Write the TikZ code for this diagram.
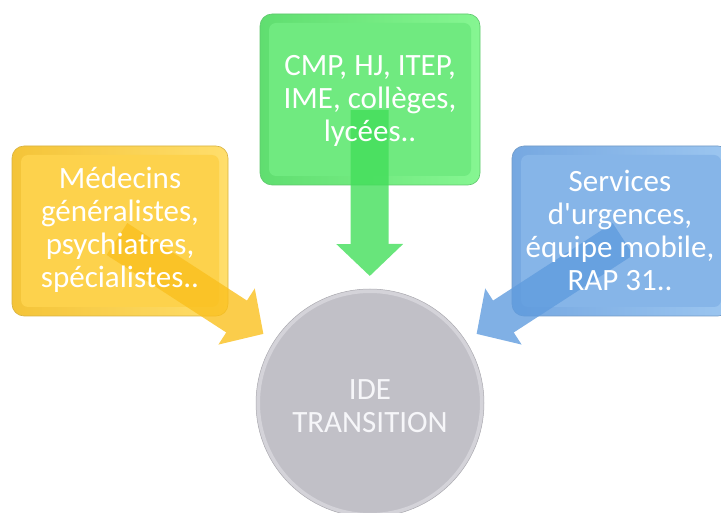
\documentclass[tikz,border=0pt]{standalone}
\usepackage{fontspec}
\setmainfont{Carlito}
\usetikzlibrary{arrows.meta}
\definecolor{ybox}{RGB}{253,210,76}
\definecolor{ydark}{RGB}{244,196,56}
\definecolor{ylight}{RGB}{255,222,108}
\definecolor{yarr}{RGB}{250,192,30}
\definecolor{gbox}{RGB}{112,234,128}
\definecolor{gdark}{RGB}{96,222,112}
\definecolor{glight}{RGB}{134,246,146}
\definecolor{garr}{RGB}{66,222,90}
\definecolor{bbox}{RGB}{134,181,232}
\definecolor{bdark}{RGB}{118,168,225}
\definecolor{blight}{RGB}{156,198,240}
\definecolor{barr}{RGB}{96,156,222}
\definecolor{ccirc}{RGB}{193,192,199}
\definecolor{crim}{RGB}{212,211,217}
\definecolor{ctext}{RGB}{246,246,249}
\tikzset{
  outerbox/.style n args={3}{rounded corners=12pt, minimum width=#1, minimum height=#2,
    inner sep=0pt, draw=#3!85!black, line width=0.6pt},
  innerbox/.style n args={3}{rounded corners=7pt, minimum width=#1, minimum height=#2,
    inner sep=0pt, fill=#3},
  fatarrow/.style={line width=38pt, line cap=butt, -{Triangle[length=32pt,width=65pt]},
    shorten >=13pt, draw=#1},
  lbl/.style={text=white, font=\fontsize{31}{33}\selectfont, align=center, inner sep=0pt},
}
\begin{document}
\begin{tikzpicture}[x=1pt,y=-1pt]
\useasboundingbox (0,0) rectangle (721,513);
% circle
\node[circle, minimum size=224pt, inner sep=0pt, fill=ccirc, draw=crim, line width=4pt] (c) at (370,403) {};
\draw[ccirc!88!black, line width=0.5pt] (c) circle[radius=114pt];
% boxes
\node[outerbox={216pt}{170pt}{ybox}, left color=ydark, right color=ylight] (yb) at (120,231) {};
\node[innerbox={198pt}{152pt}{ybox}] (ybi) at (yb.center) {};
\node[outerbox={220pt}{171pt}{gbox}, left color=gdark, right color=glight] (gb) at (370,99.5) {};
\node[innerbox={202pt}{153pt}{gbox}] (gbi) at (gb.center) {};
\node[outerbox={218pt}{170pt}{bbox}, left color=bdark, right color=blight] (bb) at (621,231) {};
\node[innerbox={200pt}{152pt}{bbox}] (bbi) at (bb.center) {};
% arrow start points
\coordinate (ys) at (117,239);
\coordinate (gs) at (369.5,110);
\coordinate (bs) at (623,239);
% arrows
\begin{scope}[transparency group, opacity=0.8]
  \draw[fatarrow=yarr] (ys) -- (c);
\end{scope}
\begin{scope}[transparency group, opacity=0.8]
  \draw[fatarrow=garr] (gs) -- (c);
\end{scope}
\begin{scope}[transparency group, opacity=0.8]
  \draw[fatarrow=barr] (bs) -- (c);
\end{scope}
% texts
\node[lbl] (yt) at (120,230) {Médecins\\généralistes,\\psychiatres,\\spécialistes..};
\node[lbl] (gt) at (370,101) {CMP, HJ, ITEP,\\IME, collèges,\\lycées..};
\node[lbl] (bt) at (620,230) {Services\\d\textquotesingle urgences,\\équipe mobile,\\RAP 31..};
\node[lbl, text=ctext] (ct) at (370,406) {IDE\\TRANSITION};
\end{tikzpicture}
\end{document}
